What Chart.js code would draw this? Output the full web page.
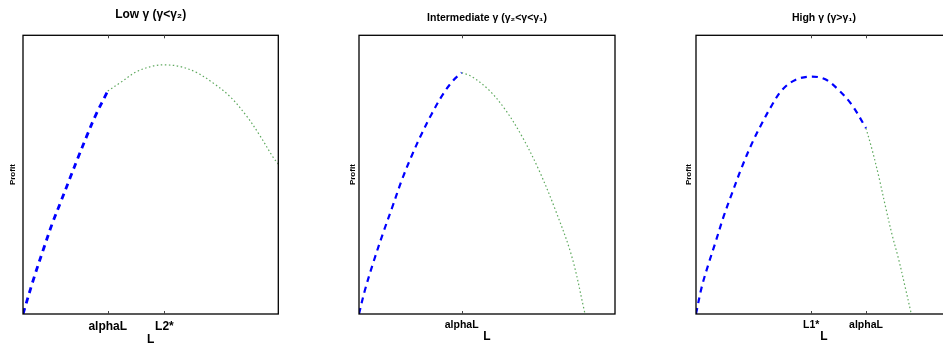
<!DOCTYPE html>
<html>
<head>
<meta charset="utf-8">
<script src="https://cdn.jsdelivr.net/npm/chart.js@4/dist/chart.umd.min.js"></script>
<style>
  html, body { margin: 0; padding: 0; background: #fff; overflow: hidden; }
  #wrap { position: relative; width: 943px; height: 345px; overflow: hidden; }
  canvas { position: absolute; top: 0; }
</style>
</head>
<body>
<div id="wrap">
  <canvas id="c1" width="300" height="345" style="left:0px"></canvas>
  <canvas id="c2" width="300" height="345" style="left:337px"></canvas>
  <canvas id="c3" width="300" height="345" style="left:672px"></canvas>
</div>
<script>
// panel 1 - Low gamma
var lowBlueX  = [0, 0.042, 0.081, 0.116, 0.149, 0.185, 0.215, 0.250, 0.284, 0.332];
var lowBlueY  = [0, 0.127, 0.235, 0.328, 0.405, 0.490, 0.560, 0.639, 0.712, 0.800];
var lowGreenX = [0.332, 0.381, 0.446, 0.511, 0.554, 0.615, 0.681, 0.746, 0.811, 0.876, 0.928, 0.980, 1.0];
var lowGreenY = [0.800, 0.830, 0.870, 0.890, 0.894, 0.888, 0.866, 0.828, 0.780, 0.710, 0.640, 0.562, 0.538];
var lowTicks  = [0.332, 0.554];
var lowLabels = ['alphaL', 'L2*'];

// panel 2 - Intermediate gamma
var midBlueX  = [0, 0.023, 0.056, 0.095, 0.128, 0.167, 0.206, 0.245, 0.284, 0.329, 0.368, 0.401];
var midBlueY  = [0, 0.085, 0.185, 0.293, 0.378, 0.480, 0.568, 0.647, 0.718, 0.790, 0.838, 0.866];
var midGreenX = [0.401, 0.440, 0.505, 0.570, 0.635, 0.701, 0.766, 0.831, 0.883];
var midGreenY = [0.866, 0.852, 0.806, 0.735, 0.640, 0.520, 0.376, 0.207, 0.0];
var midTicks  = [0.401];
var midLabels = ['alphaL'];

// panel 3 - High gamma
var highBlueX  = [0, 0.023, 0.050, 0.075, 0.108, 0.141, 0.180, 0.219, 0.258, 0.297, 0.336, 0.388, 0.450, 0.505, 0.557, 0.609, 0.664];
var highBlueY  = [0, 0.099, 0.183, 0.254, 0.350, 0.434, 0.529, 0.613, 0.685, 0.750, 0.804, 0.840, 0.852, 0.842, 0.804, 0.750, 0.667];
var highGreenX = [0.664, 0.688, 0.714, 0.740, 0.766, 0.792, 0.818, 0.841];
var highGreenY = [0.667, 0.589, 0.493, 0.386, 0.284, 0.195, 0.093, 0.0];
var highTicks  = [0.450, 0.664];
var highLabels = ['L1*', 'alphaL'];

var FONT = "'Liberation Sans', Arial, Helvetica, sans-serif";

toPoints = (xs, ys) => xs.map(function(x, i) { return {x: x, y: ys[i]}; });

// box round the axes and little inward ticks, matlab style
var boxPlugin = {
    id: 'box',
    afterDraw: function(chart) {
        var a = chart.chartArea, ctx = chart.ctx, xs = chart.scales.x;
        ctx.save();
        ctx.strokeStyle = '#000';
        ctx.lineWidth = 1.3;
        ctx.strokeRect(a.left, a.top, a.right - a.left, a.bottom - a.top);
        ctx.lineWidth = 1;
        ctx.strokeStyle = '#444';
        chart.options.plugins.box.ticks.forEach(function(v) {
            var px = Math.round(xs.getPixelForValue(v)) + 0.5;
            ctx.beginPath();
            ctx.moveTo(px, a.bottom); ctx.lineTo(px, a.bottom - 3);
            ctx.moveTo(px, a.top); ctx.lineTo(px, a.top + 3);
            ctx.stroke();
        });
        ctx.restore();
    }
};

drawPanel = (id, cfg) => {
    new Chart(document.getElementById(id), {
        type: 'scatter',
        data: {
            datasets: [{
                data: toPoints(cfg.blueX, cfg.blueY),
                showLine: true,
                borderColor: '#0000ff',
                borderWidth: cfg.blueWidth,
                borderDash: [6, 5],
                pointRadius: 0,
                tension: 0.35,
                fill: false
            }, {
                data: toPoints(cfg.greenX, cfg.greenY),
                showLine: true,
                borderColor: 'rgba(40,140,40,0.75)',
                borderWidth: 1.2,
                borderDash: [1.5, 2.5],
                pointRadius: 0,
                tension: 0.35,
                fill: false
            }]
        },
        options: {
            responsive: false,
            animation: false,
            layout: { padding: { left: 0, right: cfg.padRight, top: 0, bottom: 0 } },
            plugins: {
                legend: { display: false },
                tooltip: { enabled: false },
                title: {
                    display: true,
                    fullSize: false,
                    text: cfg.title,
                    color: '#000',
                    font: { family: FONT, size: cfg.titleSize, weight: 'bold' },
                    padding: cfg.titlePad
                },
                box: { ticks: cfg.ticks }
            },
            scales: {
                x: {
                    type: 'linear',
                    min: 0,
                    max: 1,
                    border: { display: false },
                    grid: { display: false, drawTicks: false },
                    afterBuildTicks: function(scale) {
                        scale.ticks = cfg.ticks.map(function(v) { return {value: v}; });
                    },
                    afterFit: function(scale) { scale.height = 31; },
                    ticks: {
                        autoSkip: false,
                        maxRotation: 0,
                        padding: cfg.tickPad,
                        color: '#000',
                        font: { family: FONT, size: cfg.tickSize, weight: 'bold' },
                        callback: function(v) {
                            var i = cfg.ticks.indexOf(v);
                            return i >= 0 ? cfg.labels[i] : '';
                        }
                    },
                    title: {
                        display: true,
                        text: 'L',
                        color: '#000',
                        font: { family: FONT, size: 12, weight: 'bold', lineHeight: 1 },
                        padding: { top: 0, bottom: cfg.lPad }
                    }
                },
                y: {
                    min: 0,
                    max: 1,
                    border: { display: false },
                    grid: { display: false, drawTicks: false },
                    ticks: { display: false },
                    afterFit: function(scale) { scale.width = cfg.yWidth; },
                    title: {
                        display: true,
                        text: 'Profit',
                        color: '#000',
                        font: { family: FONT, size: 8, weight: 'bold' },
                        padding: { top: cfg.profitPad, bottom: 0 }
                    }
                }
            }
        },
        plugins: [boxPlugin]
    });
}

drawPanel('c1', {
    blueX: lowBlueX, blueY: lowBlueY, greenX: lowGreenX, greenY: lowGreenY,
    ticks: lowTicks, labels: lowLabels, title: 'Low γ (γ<γ₂)',
    titleSize: 12, titlePad: { top: 7.8, bottom: 13.1 }, tickSize: 12, tickPad: 5,
    lPad: -1, yWidth: 23, padRight: 21.7, profitPad: 7.7, blueWidth: 2.8
});
drawPanel('c2', {
    blueX: midBlueX, blueY: midBlueY, greenX: midGreenX, greenY: midGreenY,
    ticks: midTicks, labels: midLabels, title: 'Intermediate γ (γ₂<γ<γ₁)',
    titleSize: 10.5, titlePad: { top: 11.7, bottom: 11 }, tickSize: 10.5, tickPad: 4.4,
    lPad: 2.3, yWidth: 22, padRight: 22, profitPad: 10.7, blueWidth: 2.2
});
drawPanel('c3', {
    blueX: highBlueX, blueY: highBlueY, greenX: highGreenX, greenY: highGreenY,
    ticks: highTicks, labels: highLabels, title: 'High γ (γ>γ₁)',
    titleSize: 10.5, titlePad: { top: 11.7, bottom: 11 }, tickSize: 10.5, tickPad: 4.4,
    lPad: 2.3, yWidth: 24, padRight: 20, profitPad: 11.7, blueWidth: 2.2
});
</script>
</body>
</html>
